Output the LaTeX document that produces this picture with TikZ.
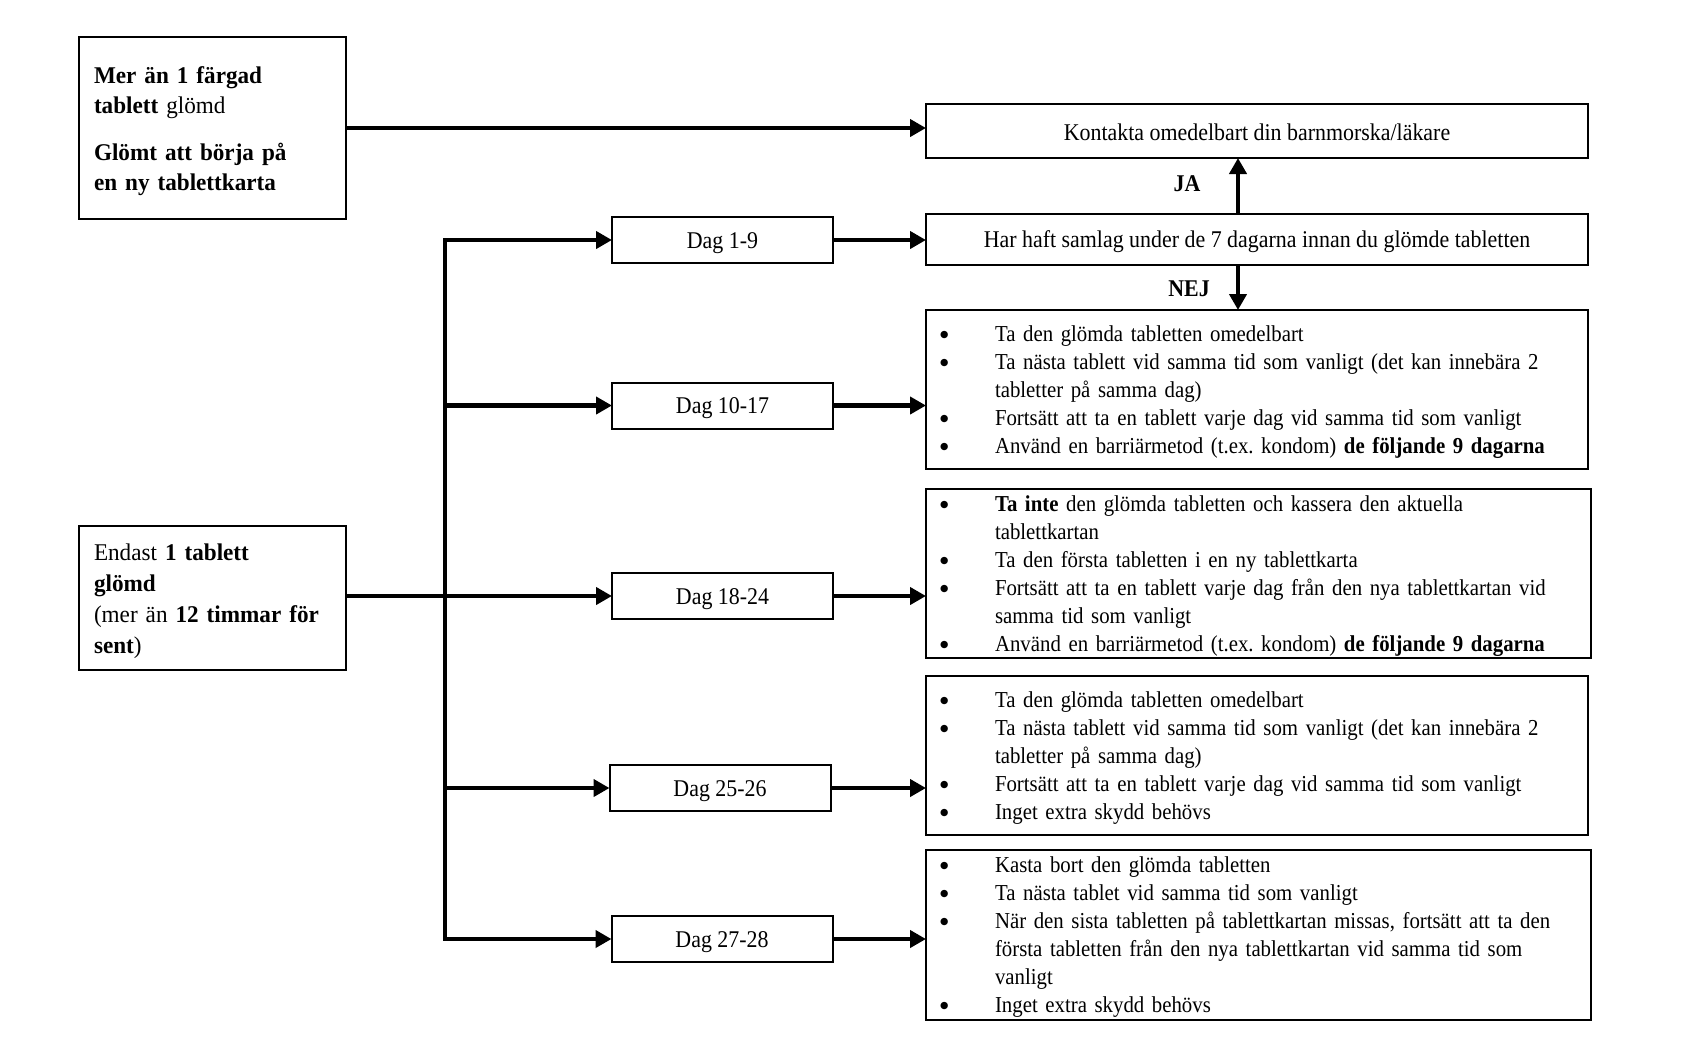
\documentclass[tikz,border=0pt]{standalone}
\usepackage{fontspec}
\setmainfont{Liberation Serif}[FakeStretch=0.913]
\newfontfamily\leftfont{Liberation Serif}[FakeStretch=0.965]
\newfontfamily\dejavu{DejaVu Sans}
\usetikzlibrary{arrows.meta}
\frenchspacing
\newcommand\bigbul{\raisebox{2pt}{\dejavu\fontsize{4.8pt}{5pt}\selectfont ●}}
\newcommand\bl[1]{\makebox[27.5pt][l]{\bigbul}\mbox{#1}}
\newcommand\cl[1]{\hspace*{27.5pt}\mbox{#1}}
\newcommand\fs{\rule{0pt}{10.2pt}}
\tikzset{
  box/.style={draw, line width=1pt, inner sep=0pt, outer sep=0pt},
  lbox/.style={box, align=left, text width=118.5pt, inner xsep=7.5pt, minimum width=133.5pt},
  bbox/.style={box, align=left, inner xsep=7pt, font=\fontsize{11.4pt}{14pt}\selectfont},
  dbox/.style={box, minimum width=110.5pt, minimum height=23pt, text height=11pt, text depth=2.6pt, font=\fontsize{12pt}{14pt}\selectfont},
  wbox/.style={box, minimum width=331pt, text depth=2.6pt, font=\fontsize{12pt}{14pt}\selectfont},
  arr/.style={line width=2.2pt, -{Triangle[length=8pt,width=8.5pt]}},
  trunk/.style={line width=2.2pt, line cap=rect},
  lbl/.style={font=\fontsize{12pt}{14pt}\selectfont\bfseries, inner sep=0pt}
}
\begin{document}
\begin{tikzpicture}[x=0.5pt, y=-0.5pt]
\useasboundingbox (0,0) rectangle (1692,1041);

% left boxes
\node[lbox, minimum height=91pt, font=\leftfont\fontsize{12pt}{15pt}\selectfont] (A) at (212.5,128)
  {\rule{0pt}{11.7pt}\textbf{Mer än 1 färgad}\\\textbf{tablett} glömd\\[8.75pt]\textbf{Glömt att börja på}\\\textbf{en ny tablettkarta}};
\node[lbox, minimum height=72pt, font=\leftfont\fontsize{12pt}{15.5pt}\selectfont] (E) at (212.5,598)
  {\rule{0pt}{11.7pt}Endast \textbf{1 tablett}\\\textbf{glömd}\\(mer än \textbf{12 timmar för}\\\textbf{sent})};

% top right boxes
\node[wbox, minimum height=27pt, text height=11.8pt] (K) at (1257,131) {Kontakta omedelbart din barnmorska/läkare};
\node[wbox, minimum height=25.5pt, text height=10.4pt] (H) at (1257,239.5) {Har haft samlag under de 7 dagarna innan du glömde tabletten};

% day boxes
\node[dbox] (d1) at (722.5,240) {Dag 1-9};
\node[dbox] (d2) at (722.5,405.5) {Dag 10-17};
\node[dbox] (d3) at (722.5,596) {Dag 18-24};
\node[dbox] (d4) at (720,788) {Dag 25-26};
\node[dbox] (d5) at (722,939) {Dag 27-28};

% bullet boxes
\node[bbox, text width=317pt, minimum height=79.5pt] (B1) at (1257,389.5)
  {\fs\bl{Ta den glömda tabletten omedelbart}\\
   \bl{Ta nästa tablett vid samma tid som vanligt (det kan innebära 2}\\
   \cl{tabletter på samma dag)}\\
   \bl{Fortsätt att ta en tablett varje dag vid samma tid som vanligt}\\
   \bl{Använd en barriärmetod (t.ex. kondom) \textbf{de följande 9 dagarna}}};
\node[bbox, text width=318.5pt, minimum height=84.5pt] (B2) at (1258.5,573.5)
  {\fs\bl{\textbf{Ta inte} den glömda tabletten och kassera den aktuella}\\
   \cl{tablettkartan}\\
   \bl{Ta den första tabletten i en ny tablettkarta}\\
   \bl{Fortsätt att ta en tablett varje dag från den nya tablettkartan vid}\\
   \cl{samma tid som vanligt}\\
   \bl{Använd en barriärmetod (t.ex. kondom) \textbf{de följande 9 dagarna}}};
\node[bbox, text width=317pt, minimum height=79.5pt] (B3) at (1257,755.5)
  {\fs\bl{Ta den glömda tabletten omedelbart}\\
   \bl{Ta nästa tablett vid samma tid som vanligt (det kan innebära 2}\\
   \cl{tabletter på samma dag)}\\
   \bl{Fortsätt att ta en tablett varje dag vid samma tid som vanligt}\\
   \bl{Inget extra skydd behövs}};
\node[bbox, text width=318.5pt, minimum height=85pt] (B4) at (1258.5,935)
  {\fs\bl{Kasta bort den glömda tabletten}\\
   \bl{Ta nästa tablet vid samma tid som vanligt}\\
   \bl{När den sista tabletten på tablettkartan missas, fortsätt att ta den}\\
   \cl{första tabletten från den nya tablettkartan vid samma tid som}\\
   \cl{vanligt}\\
   \bl{Inget extra skydd behövs}};

% trunk coordinates
\coordinate (t1) at (445,240);
\coordinate (t2) at (445,405.5);
\coordinate (t3) at (445,596);
\coordinate (t4) at (445,788);
\coordinate (t5) at (445,939);
\coordinate (jx) at (1238,0);

\draw[trunk] (t1) -- (t5);
\draw[line width=2.2pt] (E.east |- t3) -- (t3);
\draw[arr] (t1) -- (d1.west |- t1);
\draw[arr] (t2) -- (d2.west |- t2);
\draw[arr] (t3) -- (d3.west |- t3);
\draw[arr] (t4) -- (d4.west |- t4);
\draw[arr] (t5) -- (d5.west |- t5);

\draw[arr] (A.east) -- (A.east -| K.west);
\draw[arr] (d1.east) -- (d1.east -| H.west);
\draw[arr] (d2.east) -- (d2.east -| B1.west);
\draw[arr] (d3.east) -- (d3.east -| B2.west);
\draw[arr] (d4.east) -- (d4.east -| B3.west);
\draw[arr] (d5.east) -- (d5.east -| B4.west);

\draw[arr] (H.north -| jx) -- (K.south -| jx);
\draw[arr] (H.south -| jx) -- (B1.north -| jx);
\node[lbl] (ja) at (1187,183.5) {JA};
\node[lbl] (nej) at (1189,289) {NEJ};
\end{tikzpicture}
\end{document}
